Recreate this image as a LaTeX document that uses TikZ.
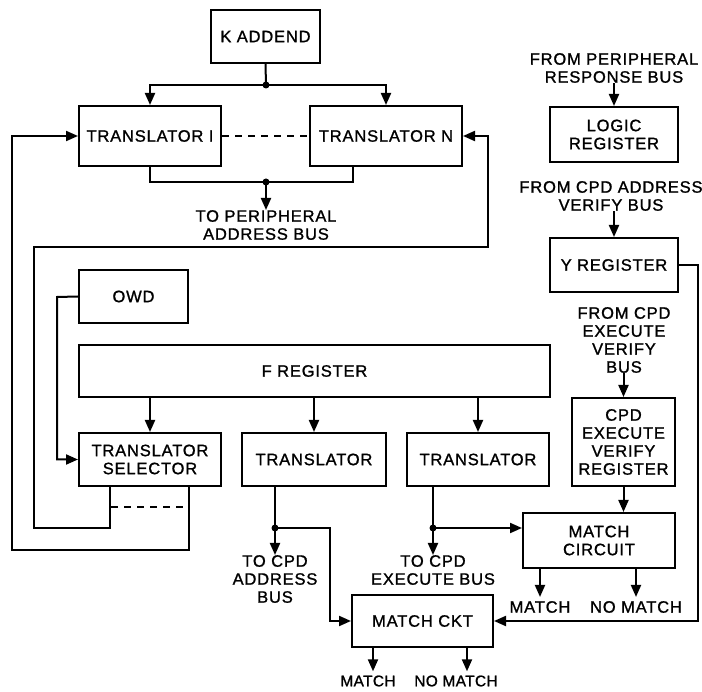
\documentclass[tikz,border=0pt]{standalone}
\usepackage{fontspec}
\setmainfont{Liberation Sans}
\newfontfamily\diafont{Liberation Sans}[LetterSpace=5,FakeBold=1.2]
\newfontfamily\diafontn{Liberation Sans}[LetterSpace=2,FakeBold=1.2]
\usetikzlibrary{arrows.meta,calc}
\newcommand{\lblfont}{\diafont\fontsize{16.5}{18}\selectfont}
\newcommand{\smlfont}{\diafontn\fontsize{15.5}{17}\selectfont}
\tikzset{
  blk/.style={draw, line width=2pt, inner sep=0pt, align=center, font=\lblfont},
  lbl/.style={inner sep=0pt, align=center, font=\lblfont},
  sml/.style={inner sep=0pt, align=center, font=\smlfont},
  wire/.style={line width=2pt},
  arr/.style={wire, -{Triangle[length=12pt,width=10pt]}},
  dsh/.style={wire, dash pattern=on 7pt off 6pt},
}
\begin{document}
\begin{tikzpicture}[x=1pt,y=-1pt]
\useasboundingbox (0,0) rectangle (702,692);
% boxes
\node[blk, minimum width=109pt, minimum height=53pt] (kadd) at (265.5,36.5) {K ADDEND};
\node[blk, minimum width=142pt, minimum height=60pt] (tr1) at (150,136) {TRANSLATOR I};
\node[blk, minimum width=152pt, minimum height=60pt] (trn) at (386,136) {TRANSLATOR N};
\node[blk, minimum width=128pt, minimum height=55pt] (logic) at (614,134.5) {LOGIC\\REGISTER};
\node[blk, minimum width=128pt, minimum height=54pt] (yreg) at (614,265) {Y REGISTER};
\node[blk, minimum width=109pt, minimum height=53pt] (owd) at (133.5,296.5) {OWD};
\node[blk, minimum width=471pt, minimum height=52pt] (freg) at (314.5,371) {F REGISTER};
\node[blk, minimum width=142pt, minimum height=53pt] (tsel) at (150,459.5) {TRANSLATOR\\SELECTOR};
\node[blk, minimum width=144pt, minimum height=53pt] (trm) at (314,459.5) {TRANSLATOR};
\node[blk, minimum width=142pt, minimum height=53pt] (trr) at (478,459.5) {TRANSLATOR};
\node[blk, minimum width=103pt, minimum height=88pt] (cpdev) at (623.5,442) {CPD\\EXECUTE\\VERIFY\\REGISTER};
\node[blk, minimum width=152pt, minimum height=55pt] (mcirc) at (599,540.5) {MATCH\\CIRCUIT};
\node[blk, minimum width=141pt, minimum height=52pt] (mckt) at (422.5,621) {MATCH CKT};
% labels
\node[lbl] (fromresp) at (614,68) {FROM PERIPHERAL\\RESPONSE BUS};
\node[lbl] (fromaddr) at (611,196) {FROM CPD ADDRESS\\VERIFY BUS};
\node[lbl] (fromexec) at (624,340) {FROM CPD\\EXECUTE\\VERIFY\\BUS};
\node[lbl, anchor=north] (toper) at (266,210) {TO PERIPHERAL\\ADDRESS BUS};
\node[lbl, anchor=north] (toaddr) at (275,555) {TO CPD\\ADDRESS\\BUS};
\node[lbl, anchor=north] (toexec) at (433,555) {TO CPD\\EXECUTE BUS};
\node[lbl] (mcm) at (540,607) {MATCH};
\node[lbl] (mcn) at (636,607) {NO MATCH};
\node[sml] (mkm) at (368,681) {MATCH};
\node[sml] (mkn) at (456,681) {NO MATCH};
% K addend to translators
\coordinate (j1) at (266,85);
\draw[wire] (kadd.south) -- (j1);
\draw[arr] (j1) -| (tr1.north);
\draw[arr] (j1) -| (trn.north);
\fill (j1) circle[radius=3.5pt];
% translators to peripheral address bus
\coordinate (j2) at (266,182);
\draw[wire] (tr1.south) |- (j2);
\draw[wire] ([xshift=-33pt]trn.south) |- (j2);
\draw[arr] (j2) -- (toper.north);
\fill (j2) circle[radius=3.5pt];
\draw[dsh] (tr1.east) -- (trn.west);
% selector loops
\coordinate (la) at (12,550);
\draw[arr] ([xshift=-33pt]tsel.south east) |- (la) |- (tr1.west);
\coordinate (lb1) at (34,528);
\coordinate (lb2) at (488,247);
\draw[arr] ([xshift=32pt]tsel.south west) |- (lb1) |- (lb2) |- (trn.east);
\coordinate (d1) at (111,507);
\coordinate (d2) at (188,507);
\draw[dsh] (d1) -- (d2);
% OWD
\coordinate (ow) at (57,297);
\draw[arr] (owd.west) -- (ow) |- (tsel.west);
% F register
\foreach \t in {tsel,trm,trr} \draw[arr] (freg.south -| \t.north) -- (\t.north);
% middle translator
\coordinate (j3) at (275,528);
\coordinate (m1) at (330,528);
\draw[wire] ([xshift=-39pt]trm.south) -- (j3);
\draw[arr] (j3) -- (toaddr.north);
\draw[arr] (j3) -- (m1) |- (mckt.west);
\fill (j3) circle[radius=3.5pt];
% right translator
\coordinate (j4) at (433,528);
\draw[wire] ([xshift=-45pt]trr.south) -- (j4);
\draw[arr] (j4) -- (toexec.north);
\draw[arr] (j4) -- (j4 -| mcirc.west);
\fill (j4) circle[radius=3.5pt];
% inputs
\draw[arr] (fromresp.south -| logic.north) -- (logic.north);
\draw[arr] (fromaddr.south -| yreg.north) -- (yreg.north);
\draw[arr] (fromexec.south -| cpdev.north) -- (cpdev.north);
\draw[arr] (cpdev.south) -- (cpdev.south |- mcirc.north);
% Y register to match ckt
\coordinate (yr) at (698,265);
\draw[arr] (yreg.east) -- (yr) |- (mckt.east);
% outputs
\draw[arr] (mcirc.south -| mcm.north) -- ([yshift=4pt]mcm.north);
\draw[arr] (mcirc.south -| mcn.north) -- ([yshift=4pt]mcn.north);
\draw[arr] (mckt.south -| 373,0) -- ([yshift=4pt]mkm.north -| 373,0);
\draw[arr] (mckt.south -| 467,0) -- ([yshift=4pt]mkn.north -| 467,0);
\end{tikzpicture}
\end{document}
